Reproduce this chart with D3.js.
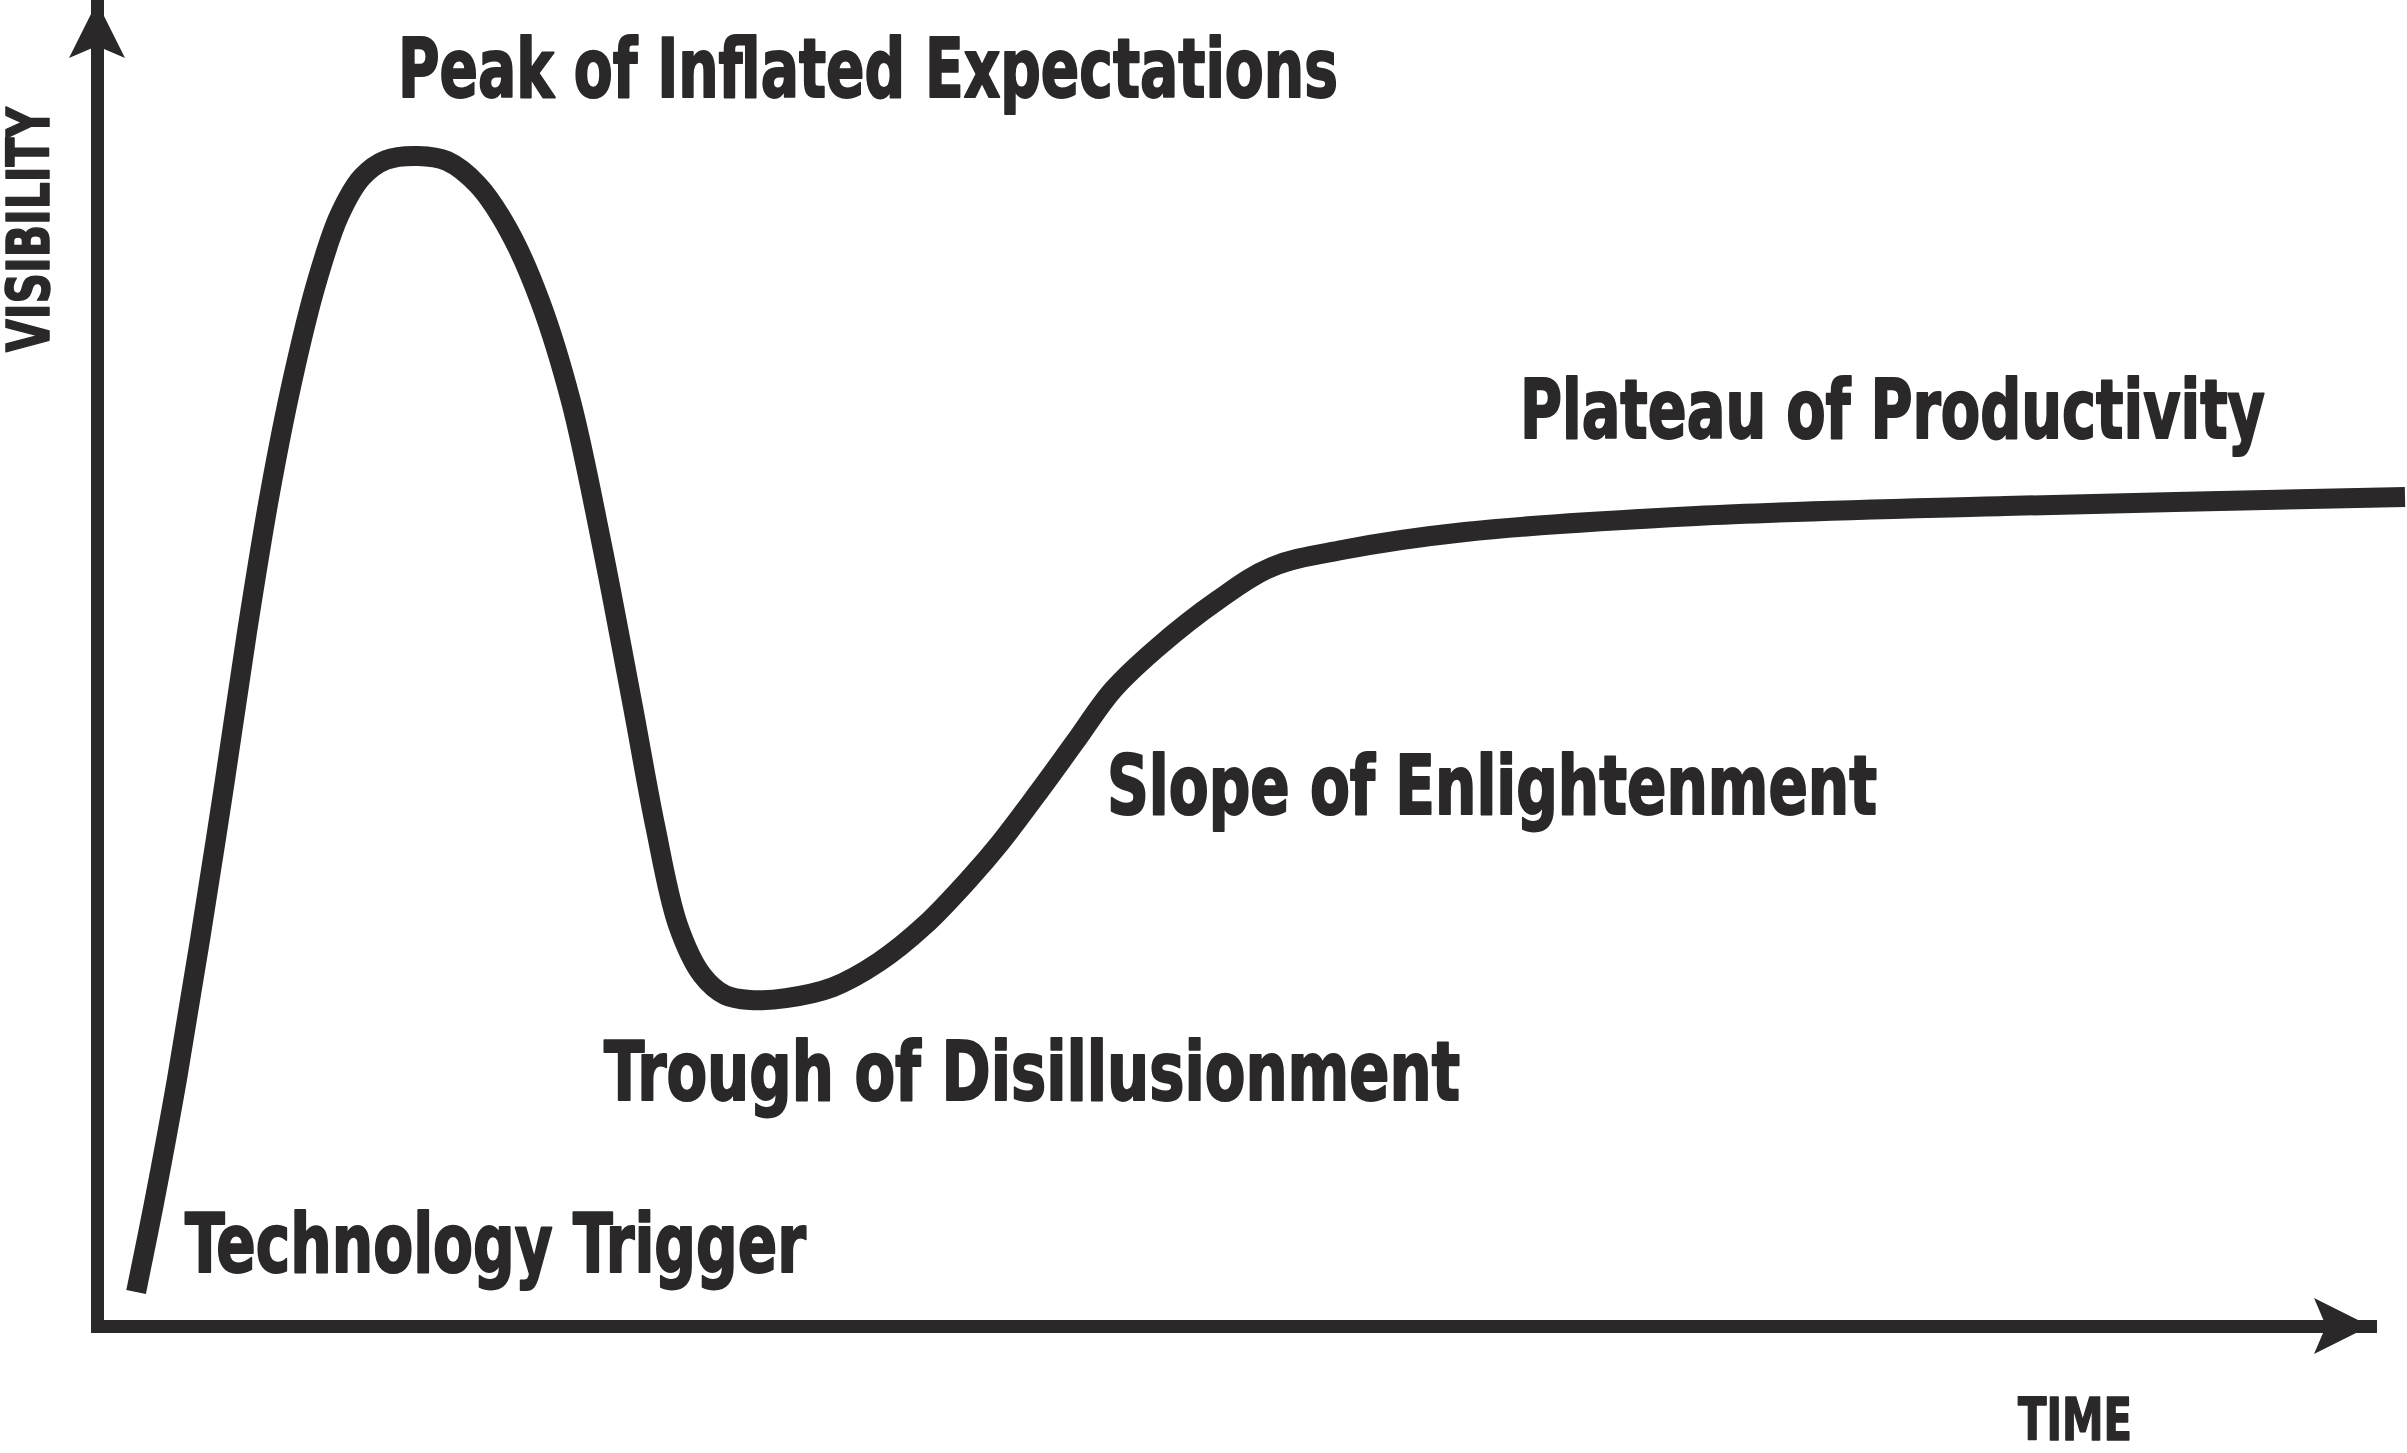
<!DOCTYPE html>
<html>
<head>
<meta charset="utf-8">
<script src="https://cdn.jsdelivr.net/npm/d3@7"></script>
<style>
  html, body { margin: 0; padding: 0; background: #ffffff; }
  svg { display: block; }
  .label {
    font-family: "DejaVu Sans Condensed", "DejaVu Sans", sans-serif;
    font-weight: 700;
    fill: #2a2829;
    stroke: #2a2829;
    stroke-linejoin: round;
  }
</style>
</head>
<body>
<svg id="hype"></svg>
<script>
// hype cycle curve, time 0..100 along the x axis, visibility 0..100 up the y axis
const timeValues = [
  1.72, 2.51, 3.52, 4.53, 5.59, 6.60, 7.61, 8.62, 9.63, 10.65,
  11.66, 12.71, 14.12, 15.40, 16.76, 18.13, 19.49, 20.85, 22.17, 23.54,
  24.55, 25.56, 26.62, 27.63, 28.73, 30.31, 32.38, 34.40, 36.43, 38.45,
  39.73, 41.49, 43.03, 44.70, 46.63, 49.32, 51.69, 54.77, 60.18, 70.35,
  83.94, 101.54
];
const visibilityValues = [
  2.57, 9.29, 18.66, 29.15, 40.79, 52.42, 62.92, 71.60, 78.63, 83.84,
  86.78, 88.07, 88.37, 87.99, 86.18, 82.70, 77.42, 69.86, 59.37, 47.13,
  37.84, 30.29, 26.51, 25.00, 24.62, 24.77, 25.60, 27.49, 30.29, 33.91,
  36.48, 40.48, 44.11, 48.04, 51.21, 54.83, 57.33, 58.61, 59.97, 61.18,
  61.93, 62.61
];

const phaseNames = [
  "Technology Trigger",
  "Peak of Inflated Expectations",
  "Trough of Disillusionment",
  "Slope of Enlightenment",
  "Plateau of Productivity"
];
const xTitle = "TIME";
const yTitle = "VISIBILITY";

// layout
const width = 2407;
const height = 1453;
const ink = "#2a2829";

// where each phase label sits (baseline start) and how wide it runs
const labelLayout = [
  {x: 185,  y: 1272, w: 621},
  {x: 398,  y: 97,   w: 940},
  {x: 604,  y: 1100, w: 856},
  {x: 1107, y: 814,  w: 770},
  {x: 1520, y: 438,  w: 745}
];

const svg = d3.select('#hype')
    .attr('width', width)
    .attr('height', height);

svg.append('rect')
    .attr('width', width)
    .attr('height', height)
    .attr('fill', '#ffffff');

const x = d3.scaleLinear()
    .domain([0, 100])
    .range([97, 2370]);

const y = d3.scaleLinear()
    .domain([0, 100])
    .range([1326, 2]);

// axes: only the domain line is kept, no ticks
const xAxis = svg.append('g')
    .attr('transform', 'translate(0,' + y(0) + ')')
    .call(d3.axisBottom(x).ticks(0).tickSize(0).tickSizeOuter(0));
const yAxis = svg.append('g')
    .attr('transform', 'translate(' + x(0) + ',0)')
    .call(d3.axisLeft(y).ticks(0).tickSize(0).tickSizeOuter(0));

[xAxis, yAxis].forEach(function(g) {
  g.select('.domain')
      .attr('stroke', ink)
      .attr('stroke-width', 13)
      .attr('stroke-linecap', 'square');
  g.selectAll('.tick').remove();
});

// arrow heads at the end of both axes
const headLen = 56, headHalf = 28, notch = 44;
const xTip = [x(100), y(0)];
svg.append('path')
    .attr('d', 'M' + xTip[0] + ',' + xTip[1] +
        'L' + (xTip[0] - headLen) + ',' + (xTip[1] - headHalf) +
        'L' + (xTip[0] - notch) + ',' + xTip[1] +
        'L' + (xTip[0] - headLen) + ',' + (xTip[1] + headHalf) + 'Z')
    .attr('fill', ink);
const yTip = [x(0), y(100)];
svg.append('path')
    .attr('d', 'M' + yTip[0] + ',' + yTip[1] +
        'L' + (yTip[0] - headHalf) + ',' + (yTip[1] + headLen) +
        'L' + yTip[0] + ',' + (yTip[1] + notch) +
        'L' + (yTip[0] + headHalf) + ',' + (yTip[1] + headLen) + 'Z')
    .attr('fill', ink);

// the curve
const points = timeValues.map(function(t, i) {
  return {time: t, visibility: visibilityValues[i]};
});

const line = d3.line()
    .x(function(d) { return x(d.time); })
    .y(function(d) { return y(d.visibility); })
    .curve(d3.curveCatmullRom.alpha(0.5));

svg.append('path')
    .datum(points)
    .attr('d', line)
    .attr('fill', 'none')
    .attr('stroke', ink)
    .attr('stroke-width', 20)
    .attr('stroke-linecap', 'butt')
    .attr('stroke-linejoin', 'round');

// phase labels
svg.selectAll('text.phase')
    .data(phaseNames)
    .enter()
    .append('text')
    .attr('class', 'label phase')
    .attr('x', function(d, i) { return labelLayout[i].x; })
    .attr('y', function(d, i) { return labelLayout[i].y; })
    .attr('textLength', function(d, i) { return labelLayout[i].w; })
    .attr('lengthAdjust', 'spacingAndGlyphs')
    .style('font-size', '82px')
    .style('stroke-width', '2px')
    .text(function(d) { return d; });

// axis titles
svg.append('text')
    .attr('class', 'label')
    .attr('x', 2018)
    .attr('y', 1440)
    .attr('textLength', 114)
    .attr('lengthAdjust', 'spacingAndGlyphs')
    .style('font-size', '58px')
    .style('stroke-width', '1.5px')
    .text(xTitle);

svg.append('text')
    .attr('class', 'label')
    .attr('transform', 'translate(49,352) rotate(-90)')
    .attr('textLength', 245)
    .attr('lengthAdjust', 'spacingAndGlyphs')
    .style('font-size', '58px')
    .style('stroke-width', '1.5px')
    .text(yTitle);
</script>
</body>
</html>
